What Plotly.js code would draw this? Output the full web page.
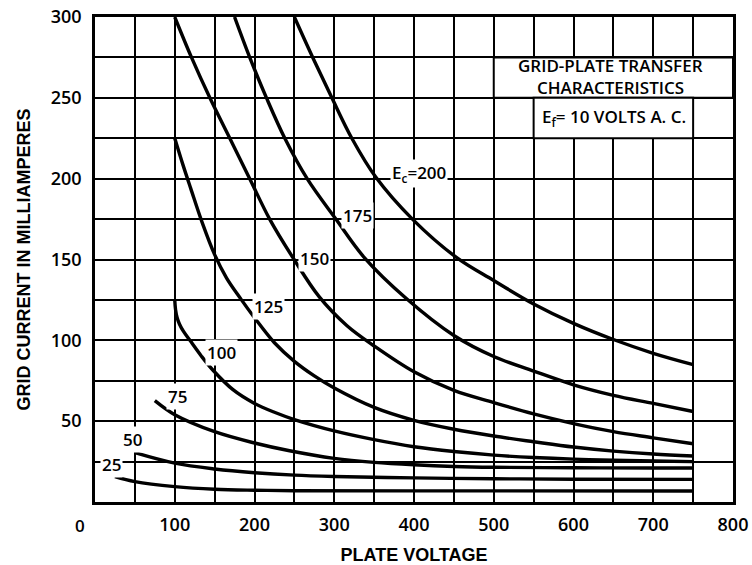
<!DOCTYPE html>
<html>
<head>
<meta charset="utf-8">
<script src="https://cdn.plot.ly/plotly-3.0.1.min.js"></script>
<style>html,body{margin:0;padding:0;background:#fff;}#chart{width:752px;height:565px;}</style>
</head>
<body>
<div id="chart"></div>
<script>
// Plate voltage (V) and grid current (mA) for each grid voltage Ec
const v200 = [250, 273, 297, 322, 352, 398, 454, 500, 550, 600, 650, 700, 750];
const i200 = [300, 275, 250, 225, 201, 175, 151, 137, 122.5, 110.5, 100.5, 92, 85];

const v175 = [175, 194, 215, 238, 266, 302, 338, 390, 450, 500, 550, 600, 650, 700, 750];
const i175 = [300, 275, 250, 225, 200, 175, 151, 126, 103, 90, 81, 72.5, 66, 61, 56];

const v150 = [100, 121, 144, 169, 194, 219, 249, 281, 316, 350, 400, 450, 500, 550, 600, 650, 700, 750];
const i150 = [300, 275, 250, 225, 200, 175, 150.5, 127, 109, 96.5, 80.5, 69, 61.5, 54.5, 48.5, 43.5, 39.7, 36];

const v125 = [100, 110, 120, 135, 150, 165, 183, 200, 225, 250, 275, 300, 350, 400, 450, 500, 550, 600, 650, 700, 750];
const i125 = [225, 209, 194, 172, 153, 138.5, 125.5, 114, 98.5, 87, 78, 70.5, 58.5, 50.5, 45, 40.8, 37.3, 34, 31.5, 29.7, 28.5];

const v100 = [100, 101, 103, 106, 111, 119, 133, 148, 173, 200, 225, 250, 300, 350, 400, 450, 500, 550, 600, 650, 700, 750];
const i100 = [125, 119, 114, 110, 105.5, 100, 90.5, 81.5, 69.5, 61, 55.5, 51, 44, 38.6, 34.2, 31.2, 29, 27.5, 26.5, 25.9, 25.4, 25];

const v75 = [75, 100, 150, 200, 244, 300, 350, 400, 450, 500, 600, 700, 750];
const i75 = [62.7, 54, 43.5, 36.5, 31.7, 27, 24.5, 23, 22, 21.5, 21.2, 21, 21];

const v50 = [50, 100, 150, 200, 250, 300, 400, 500, 600, 750];
const i50 = [30.5, 24, 20.4, 18.1, 16.6, 15.8, 14.9, 14.4, 14.1, 14];

const v25 = [25, 50, 100, 150, 200, 250, 400, 750];
const i25 = [15.7, 12.6, 9.5, 7.9, 7.3, 7, 6.9, 6.8];

const xTicks = [100, 200, 300, 400, 500, 600, 700, 800];
const xTickText = ["100", "200", "300", "400", "500", "600", "700", "800"];
const yTicks = [50, 100, 150, 200, 250, 300];
const yTickText = ["50", "100", "150", "200", "250", "300"];

// curve labels: text, plate voltage, grid current
const labelText = ["E<sub>c</sub>=200", "175", "150", "125", "100", "75", "50", "25"];
const labelV = [406, 329, 275, 217, 158, 103, 47, 21];
const labelI = [203, 177.5, 150.6, 121, 92.5, 65.5, 38.7, 22.9];

const FONT = "Open Sans, Liberation Sans, Arial, sans-serif";
const TFONT = "Liberation Sans, Arial, sans-serif";

const series = [[v200, i200], [v175, i175], [v150, i150], [v125, i125], [v100, i100], [v75, i75], [v50, i50], [v25, i25]];
const traces = series.map(s => ({
  x: s[0], y: s[1], type: "scatter", mode: "lines",
  line: {color: "#000", width: 3.4, shape: "spline", smoothing: 1},
  hoverinfo: "skip", showlegend: false
}));

const annotations = labelText.map((t, k) => ({
  x: labelV[k], y: labelI[k], xref: "x", yref: "y", text: t, showarrow: false,
  font: {family: FONT, size: 17, color: "#000", weight: 600}, bgcolor: "#fff", borderpad: 1
}));
annotations.push({x: -19 / 800, y: 0, xref: "paper", yref: "paper", xanchor: "center", yanchor: "top", yshift: -10, text: "0",
  showarrow: false, font: {family: FONT, size: 17, color: "#000", weight: 600}});
annotations.push({x: 647, y: 270, xref: "x", yref: "y", text: "GRID-PLATE TRANSFER", showarrow: false,
  font: {family: FONT, size: 17, color: "#000", weight: 600}});
annotations.push({x: 647, y: 256.5, xref: "x", yref: "y", text: "CHARACTERISTICS", showarrow: false,
  font: {family: FONT, size: 17, color: "#000", weight: 600}});
annotations.push({x: 651, y: 238, xref: "x", yref: "y", text: "E<sub>f</sub>= 10 VOLTS A. C.", showarrow: false,
  font: {family: FONT, size: 17, color: "#000", weight: 600}});

const layout = {
  width: 752, height: 565,
  margin: {l: 95, r: 19, t: 17, b: 63},
  paper_bgcolor: "#fff", plot_bgcolor: "#fff",
  showlegend: false,
  xaxis: {
    range: [0, 800], tickvals: xTicks, ticktext: xTickText,
    showgrid: true, gridcolor: "#000", gridwidth: 2,
    minor: {dtick: 50, tick0: 0, showgrid: true, gridcolor: "#000", gridwidth: 2},
    showline: true, linecolor: "#000", linewidth: 2.6, mirror: true,
    zeroline: false, ticks: "", ticklabelstandoff: 5,
    tickfont: {family: FONT, size: 18, color: "#000", weight: 600},
    title: {text: "PLATE VOLTAGE", font: {family: TFONT, size: 18, color: "#000", weight: "bold"}, standoff: 13}
  },
  yaxis: {
    range: [0, 300], tickvals: yTicks, ticktext: yTickText,
    showgrid: true, gridcolor: "#000", gridwidth: 2,
    minor: {dtick: 25, tick0: 0, showgrid: true, gridcolor: "#000", gridwidth: 2},
    showline: true, linecolor: "#000", linewidth: 2.6, mirror: true,
    zeroline: false, ticks: "", ticklabelstandoff: 7,
    tickfont: {family: FONT, size: 18, color: "#000", weight: 600},
    title: {text: "GRID CURRENT IN MILLIAMPERES", font: {family: TFONT, size: 18, color: "#000", weight: "bold"}, standoff: 16}
  },
  shapes: [
    {type: "rect", xref: "x", yref: "y", x0: 500, x1: 800, y0: 250, y1: 275, layer: "between",
     fillcolor: "#fff", line: {color: "#000", width: 2}},
    {type: "rect", xref: "x", yref: "y", x0: 550, x1: 750, y0: 225, y1: 250, layer: "between",
     fillcolor: "#fff", line: {color: "#000", width: 2}}
  ],
  annotations: annotations
};

Plotly.newPlot("chart", traces, layout, {displayModeBar: false});
</script>
</body>
</html>
